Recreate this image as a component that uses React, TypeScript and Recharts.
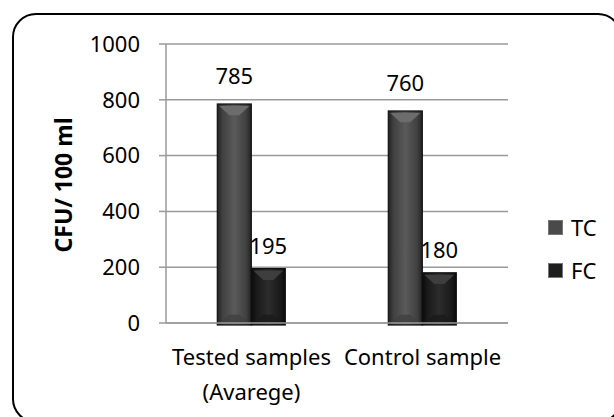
import React from "react";
import {
  BarChart,
  Bar,
  XAxis,
  YAxis,
  CartesianGrid,
  LabelList,
} from "recharts";

const categories = ["Tested samples\n(Avarege)", "Control sample"];
const tcValues = [785, 760];
const fcValues = [195, 180];
const yTicks = [0, 200, 400, 600, 800, 1000];
const seriesNames = ["TC", "FC"];
const seriesColors = ["#4a4a4a", "#1e1e1e"];

const data = categories.map((name, i) => ({
  name,
  TC: tcValues[i],
  FC: fcValues[i],
}));

const FONT = "'Noto Sans', sans-serif";

function makeShape(id: string, edge: string, mid: string, center: string, cap: string) {
  return (props: any) => {
    const { x, y, width: w, height: h } = props;
    if (!h || h <= 0) return null;
    const b = Math.min(12, w / 3);
    return (
      <g>
        <defs>
          <linearGradient id={id} x1="0" y1="0" x2="1" y2="0">
            <stop offset="0%" stopColor={edge} />
            <stop offset="15%" stopColor={mid} />
            <stop offset="50%" stopColor={center} />
            <stop offset="85%" stopColor={mid} />
            <stop offset="100%" stopColor={edge} />
          </linearGradient>
        </defs>
        <rect x={x} y={y} width={w} height={h + 2} fill={`url(#${id})`} stroke="#111" strokeWidth={1.2} />
        <polygon
          points={`${x + 2},${y + 2} ${x + w - 2},${y + 2} ${x + w / 2 + 5},${y + b} ${x + w / 2 - 5},${y + b}`}
          fill={cap}
        />
        <polygon
          points={`${x + 2},${y + h} ${x + w - 2},${y + h} ${x + w / 2 + 5},${y + h - b + 3} ${x + w / 2 - 5},${y + h - b + 3}`}
          fill={mid}
          opacity={0.8}
        />
      </g>
    );
  };
}

const TcShape = makeShape("gradTC", "#222222", "#404040", "#5a5a5a", "#6c6c6c");
const FcShape = makeShape("gradFC", "#0a0a0a", "#1a1a1a", "#2c2c2c", "#3e3e3e");

const CategoryTick = (props: any) => {
  const { x, y, payload } = props;
  const lines = String(payload.value).split("\n");
  return (
    <text x={x} y={y} textAnchor="middle" fontFamily={FONT} fontSize={22} fill="#000">
      {lines.map((line, i) => (
        <tspan key={i} x={x} dy={i === 0 ? 34 : 35}>
          {line}
        </tspan>
      ))}
    </text>
  );
};

export default function App() {
  return (
    <div style={{ position: "absolute", left: 0, top: 0, width: 614, height: 417, overflow: "hidden", background: "#fff" }}>
      <div
        style={{
          position: "absolute",
          left: 12,
          top: 13,
          width: 610,
          height: 410,
          border: "2px solid #000",
          borderRadius: 24,
          boxSizing: "border-box",
        }}
      />
      <div style={{ position: "absolute", left: 0, top: 0 }}>
        <BarChart
          width={614}
          height={417}
          data={data}
          margin={{ top: 44, right: 106, left: 0, bottom: 64 }}
          barCategoryGap="30%"
          barGap={0}
        >
          <CartesianGrid vertical={false} stroke="#9a9a9a" strokeWidth={1.5} />
          <XAxis
            dataKey="name"
            height={30}
            axisLine={{ stroke: "#9a9a9a", strokeWidth: 1.5 }}
            tickLine={false}
            tick={<CategoryTick />}
            interval={0}
          />
          <YAxis
            width={166}
            domain={[0, 1000]}
            ticks={yTicks}
            axisLine={{ stroke: "#9a9a9a", strokeWidth: 1.5 }}
            tickLine={{ stroke: "#9a9a9a", strokeWidth: 1.5 }}
            tickSize={7}
            tickMargin={19}
            tick={{ fontFamily: FONT, fontSize: 22, fill: "#000" }}
            label={{
              content: () => (
                <text
                  x={63}
                  y={185}
                  transform="rotate(-90, 63, 185)"
                  textAnchor="middle"
                  dominantBaseline="central"
                  fontFamily={FONT}
                  fontSize={23}
                  fontWeight="bold"
                  fill="#000"
                >
                  CFU/ 100 ml
                </text>
              ),
            }}
          />
          <Bar dataKey="TC" name="TC" fill={seriesColors[0]} shape={TcShape} isAnimationActive={false}>
            <LabelList dataKey="TC" position="top" offset={20} style={{ fontFamily: FONT, fontSize: 22, fill: "#000" }} />
          </Bar>
          <Bar dataKey="FC" name="FC" fill={seriesColors[1]} shape={FcShape} isAnimationActive={false}>
            <LabelList dataKey="FC" position="top" offset={15} style={{ fontFamily: FONT, fontSize: 22, fill: "#000" }} />
          </Bar>
        </BarChart>
      </div>
      <div style={{ position: "absolute", left: 548, top: 212, fontFamily: FONT, fontSize: 22, color: "#000" }}>
        {seriesNames.map((name, i) => (
          <div key={name} style={{ display: "flex", alignItems: "center", height: 30, marginBottom: 13 }}>
            <span
              style={{
                display: "inline-block",
                width: 13,
                height: 13,
                background: seriesColors[i],
                border: "1px solid #777",
                marginRight: 8,
              }}
            />
            <span>{name}</span>
          </div>
        ))}
      </div>
    </div>
  );
}
